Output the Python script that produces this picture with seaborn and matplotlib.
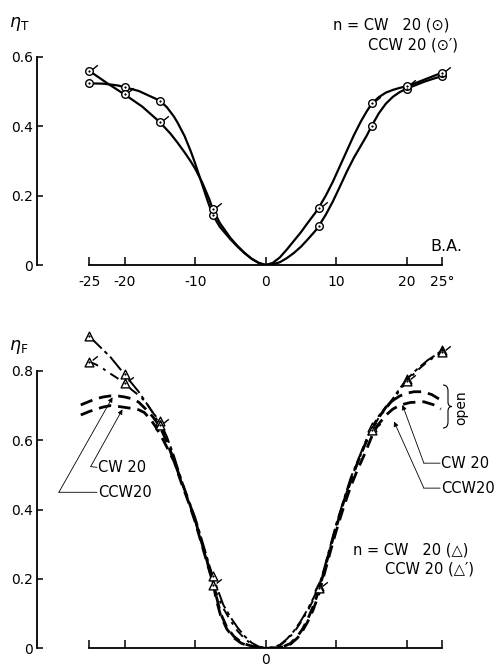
import matplotlib
matplotlib.use("Agg")
import matplotlib.pyplot as plt
import seaborn as sns
from matplotlib.path import Path
from matplotlib.patches import PathPatch

# ---------------- data ----------------
BA_TICKS = [-25, -20, -10, 0, 10, 20, 25]
TOP_XLABELS = ["-25", "-20", "-10", "0", "10", "20", "25°"]
BOT_XLABELS = ["", "", "", "0", "", "", ""]
TOP_YTICKS = [0, 0.2, 0.4, 0.6]
TOP_YLABELS = ["0", "0.2", "0.4", "0.6"]
BOT_YTICKS = [0, 0.2, 0.4, 0.6, 0.8]
BOT_YLABELS = ["0", "0.2", "0.4", "0.6", "0.8"]

# measured points (top: eta_T)
pt_x = [-25, -20, -15, -7.5, 7.5, 15, 20, 25]
top_cw_pts = [0.524, 0.513, 0.474, 0.144, 0.112, 0.401, 0.509, 0.545]
top_ccw_pts = [0.560, 0.492, 0.412, 0.161, 0.165, 0.468, 0.516, 0.555]

# traced curves (top)
top_cw_cx = [-25, -23, -21, -20, -18, -16.5, -15, -14, -13, -12.5, -11.5, -10.6, -10, -9, -8.2, -7.5,
             -6.5, -5, -4, -3, -2, -1, 0,
             1, 2, 3, 4, 5, 6, 7, 7.5, 8.5, 9.5, 10.5, 11.5, 12.5, 13.5, 14.3, 15, 16, 17, 18, 19, 20,
             21, 22.5, 24, 25]
top_cw_cy = [0.524, 0.523, 0.518, 0.513, 0.502, 0.488, 0.474, 0.455, 0.428, 0.411, 0.372, 0.327, 0.293, 0.232, 0.183, 0.144,
             0.110, 0.074, 0.053, 0.034, 0.018, 0.006, 0.0,
             0.002, 0.008, 0.020, 0.035, 0.053, 0.075, 0.098, 0.112, 0.145, 0.183, 0.226, 0.270, 0.310, 0.345, 0.373, 0.401, 0.437, 0.465, 0.485, 0.499, 0.509,
             0.517, 0.529, 0.539, 0.545]
top_ccw_cx = [-25, -22.5, -20, -17.5, -15, -13.5, -12.5, -11.5, -10.6, -10, -9, -8, -7.5, -6.5, -5, -4, -3, -2, -1, 0,
              1, 2, 3, 4, 5, 6, 7, 7.5, 8.5, 9.5, 10.5, 11.5, 12.5, 13.5, 14.3, 15, 16, 17, 18, 19, 20,
              21, 22.5, 24, 25]
top_ccw_cy = [0.560, 0.525, 0.492, 0.457, 0.412, 0.379, 0.353, 0.325, 0.298, 0.278, 0.238, 0.190, 0.161, 0.121, 0.078, 0.055, 0.035, 0.018, 0.006, 0.0,
              0.006, 0.022, 0.045, 0.07, 0.095, 0.123, 0.150, 0.165, 0.20, 0.24, 0.285, 0.33, 0.375, 0.415, 0.443, 0.465, 0.484, 0.497, 0.505, 0.511, 0.516,
              0.523, 0.535, 0.547, 0.555]

# measured points (bottom: eta_F)
bot_cw_pts = [0.900, 0.790, 0.655, 0.209, 0.180, 0.637, 0.776, 0.860]
bot_ccw_pts = [0.827, 0.764, 0.645, 0.183, 0.175, 0.630, 0.770, 0.855]

# traced curves (bottom)
bot_cw_cx = [-25, -24, -23, -22, -21, -20, -19, -18, -17, -16, -15, -14, -13, -12, -11, -10, -9, -8, -7.5,
             -7, -6, -5, -4, -3, -2, -1, 0,
             1, 2, 3, 4, 5, 6, 7, 7.5, 8, 9, 10, 11, 12, 13, 14, 15, 16, 17, 18, 19, 20,
             21, 22, 23, 24, 25]
bot_cw_cy = [0.900, 0.880, 0.860, 0.840, 0.815, 0.790, 0.765, 0.740, 0.710, 0.680, 0.655, 0.610, 0.555, 0.490, 0.430, 0.378, 0.310, 0.240, 0.209,
             0.180, 0.125, 0.090, 0.060, 0.035, 0.016, 0.005, 0.0,
             0.003, 0.010, 0.027, 0.050, 0.080, 0.115, 0.155, 0.180, 0.210, 0.285, 0.360, 0.425, 0.490, 0.540, 0.590, 0.637, 0.670, 0.695, 0.720, 0.750, 0.776,
             0.797, 0.815, 0.832, 0.845, 0.860]
bot_ccw_cx = [-25, -24, -23, -22, -21, -20, -19, -18, -17, -16, -15, -14, -13, -12, -11, -10, -9, -8, -7.5,
              -7, -6, -5, -4, -3, -2, -1, 0,
              1, 2, 3, 4, 5, 6, 7, 7.5, 8, 9, 10, 11, 12, 13, 14, 15, 16, 17, 18, 19, 20,
              21, 22, 23, 24, 25]
bot_ccw_cy = [0.827, 0.818, 0.806, 0.792, 0.779, 0.764, 0.746, 0.730, 0.710, 0.680, 0.645, 0.600, 0.545, 0.485, 0.425, 0.370, 0.300, 0.225, 0.183,
              0.160, 0.115, 0.080, 0.050, 0.028, 0.012, 0.003, 0.0,
              0.002, 0.008, 0.024, 0.046, 0.076, 0.110, 0.150, 0.175, 0.205, 0.280, 0.355, 0.420, 0.485, 0.535, 0.585, 0.630, 0.665, 0.690, 0.715, 0.745, 0.770,
              0.792, 0.811, 0.828, 0.842, 0.855]

# "open" curves (bottom, dashed)
open_a_cx = [-26.2, -25, -24, -23, -22, -21, -20, -19, -18, -17, -16, -15, -14, -13, -12, -11, -10, -9, -8, -7.5,
             -7, -6.4, -5.5, -4.5, -3.5, -2.6, -1.5, 0,
             1.5, 2.5, 3.5, 4.5, 5.2, 5.9, 6.7, 7.5, 8.5, 9.3, 10, 11, 12, 13, 14, 15, 16, 17, 18, 19,
             20, 21, 22.2, 23.5, 24.8]
open_a_cy = [0.702, 0.712, 0.720, 0.725, 0.728, 0.728, 0.725, 0.720, 0.710, 0.690, 0.668, 0.640, 0.595, 0.540, 0.485, 0.430, 0.370, 0.300, 0.230, 0.195,
             0.150, 0.101, 0.060, 0.034, 0.018, 0.010, 0.004, 0.0,
             0.001, 0.005, 0.014, 0.035, 0.055, 0.082, 0.120, 0.165, 0.240, 0.300, 0.350, 0.420, 0.480, 0.535, 0.585, 0.630, 0.665, 0.695, 0.715, 0.728,
             0.736, 0.740, 0.740, 0.732, 0.716]
open_b_cx = [-26.2, -25, -24, -23, -22, -21, -20, -19, -18, -17.2, -16.3, -15.6, -14.5, -13, -12, -11, -10, -9, -8, -7.5,
             -7, -6.4, -5.5, -4.5, -3.5, -2.6, -1.5, 0,
             1.5, 2.5, 3.5, 4.5, 5.2, 5.9, 6.7, 7.5, 8.5, 9.3, 10, 11, 12, 13, 14, 15, 15.8, 17, 18, 19.1,
             20.5, 22.4, 23.7, 24.8]
open_b_cy = [0.673, 0.683, 0.690, 0.696, 0.700, 0.698, 0.695, 0.692, 0.688, 0.680, 0.660, 0.639, 0.600, 0.540, 0.480, 0.425, 0.365, 0.295, 0.225, 0.190,
             0.140, 0.095, 0.055, 0.030, 0.015, 0.008, 0.003, 0.0,
             0.001, 0.004, 0.012, 0.030, 0.050, 0.075, 0.110, 0.155, 0.230, 0.290, 0.340, 0.405, 0.465, 0.515, 0.560, 0.610, 0.642, 0.672, 0.690, 0.702,
             0.709, 0.711, 0.703, 0.690]

# ---------------- layout ----------------
sns.set_style("ticks")
plt.rcParams["font.family"] = ["DejaVu Sans"]
for key in ("text.color", "axes.labelcolor", "xtick.color", "ytick.color", "axes.edgecolor"):
    plt.rcParams[key] = "black"
W, H = 499, 666
fig = plt.figure(figsize=(W / 100, H / 100), dpi=100)
PXD, PYD = 7.06, 346.7
XL = (-32.4, 29.75)


def rect(y0_px, ymax):
    return [37 / W, 1 - y0_px / H, (XL[1] - XL[0]) * PXD / W, ymax * PYD / H]


ax1 = fig.add_axes(rect(265, 0.66))
ax2 = fig.add_axes(rect(648.3, 0.95))

tick_path = Path([(0.37, 0.24), (0.97, 0.72)], [Path.MOVETO, Path.LINETO])


def style_axes(ax, ymax, ybound, yt, yl, xl, xpad):
    ax.set_xlim(*XL)
    ax.set_ylim(0, ymax)
    for s in ("top", "right"):
        ax.spines[s].set_visible(False)
    ax.spines["bottom"].set_bounds(-25, 25)
    ax.spines["left"].set_bounds(0, ybound)
    for s in ("bottom", "left"):
        ax.spines[s].set_linewidth(1.3)
        ax.spines[s].set_color("black")
    ax.set_xticks(BA_TICKS)
    ax.set_xticklabels(xl)
    ax.set_yticks(yt)
    ax.set_yticklabels(yl)
    ax.tick_params(axis="x", direction="in", length=6, width=1.1, pad=xpad, labelsize=10,
                   colors="black")
    ax.tick_params(axis="y", direction="in", length=4, width=1.1, pad=3, labelsize=10,
                   colors="black")
    ax.set_xlabel("")
    ax.set_ylabel("")
    ax.patch.set_alpha(0)


def points(ax, x, y, marker, s, ticked):
    sns.scatterplot(x=x, y=y, ax=ax, marker=marker, s=s, color="white",
                    edgecolor="k", linewidth=1.0, zorder=4, legend=False)
    sns.scatterplot(x=x, y=y, ax=ax, marker="o", s=1.5, color="k",
                    edgecolor="k", linewidth=0.3, zorder=5, legend=False)
    if ticked:
        sns.scatterplot(x=x, y=y, ax=ax, marker=tick_path, s=144, color="k",
                        edgecolor="k", linewidth=1.0, zorder=5, legend=False)


# ---- top panel ----
sns.lineplot(x=top_cw_cx, y=top_cw_cy, ax=ax1, color="k", lw=1.6, estimator=None)
sns.lineplot(x=top_ccw_cx, y=top_ccw_cy, ax=ax1, color="k", lw=1.6, estimator=None)
points(ax1, pt_x, top_cw_pts, "o", 30, False)
points(ax1, pt_x, top_ccw_pts, "o", 30, True)
style_axes(ax1, 0.66, 0.6, TOP_YTICKS, TOP_YLABELS, TOP_XLABELS, 7)
ax1.text(27.9, 0.052, "B.A.", ha="right", va="center", fontsize=11.5)

fig.text(9 / W, 1 - 24 / H, r"$\eta_\mathrm{T}$", fontsize=12.5, va="center", ha="left")
fig.text(333 / W, 1 - 25 / H, "n = CW   20 (⊙)", fontsize=10.5, va="center", ha="left")
fig.text(368 / W, 1 - 45 / H, "CCW 20 (⊙′)", fontsize=10.5, va="center", ha="left")

# ---- bottom panel ----
sns.lineplot(x=open_a_cx, y=open_a_cy, ax=ax2, color="k", lw=2.0, estimator=None,
             linestyle=(0, (4.5, 2.5)))
sns.lineplot(x=open_b_cx, y=open_b_cy, ax=ax2, color="k", lw=2.0, estimator=None,
             linestyle=(0, (4.5, 2.5)))
sns.lineplot(x=bot_cw_cx, y=bot_cw_cy, ax=ax2, color="k", lw=1.4, estimator=None,
             linestyle=(0, (9, 2, 2, 2)))
sns.lineplot(x=bot_ccw_cx, y=bot_ccw_cy, ax=ax2, color="k", lw=1.4, estimator=None,
             linestyle=(0, (5, 3, 1.5, 3)))
points(ax2, pt_x, bot_cw_pts, "^", 40, False)
points(ax2, pt_x, bot_ccw_pts, "^", 40, True)
style_axes(ax2, 0.95, 0.8, BOT_YTICKS, BOT_YLABELS, BOT_XLABELS, 3.5)

fig.text(9 / W, 1 - 347 / H, r"$\eta_\mathrm{F}$", fontsize=12.5, va="center", ha="left")
fig.text(353 / W, 1 - 550 / H, "n = CW   20 (△)", fontsize=10.5, va="center", ha="left")
fig.text(385 / W, 1 - 569 / H, "CCW 20 (△′)", fontsize=10.5, va="center", ha="left")

# leader annotations (tip, corner, text-start)
leaders = [
    ("CW 20", (-20.3, 0.689), (-24.8, 0.524), (-23.8, 0.522)),
    ("CCW20", (-21.7, 0.724), (-29.3, 0.450), (-23.8, 0.450)),
    ("CW 20", (19.36, 0.702), (22.4, 0.534), (24.8, 0.534)),
    ("CCW20", (18.17, 0.654), (22.4, 0.462), (24.8, 0.462)),
]
for label, tip, corner, tpos in leaders:
    ax2.annotate("", xy=tip, xytext=corner,
                 arrowprops=dict(arrowstyle="-|>", lw=0.6, color="k",
                                 mutation_scale=7, shrinkA=0, shrinkB=0))
    ax2.annotate("", xy=(tpos[0] - 0.1, tpos[1]), xytext=corner,
                 arrowprops=dict(arrowstyle="-", lw=0.6, color="k",
                                 shrinkA=0, shrinkB=0))
    ax2.text(tpos[0], tpos[1], label, ha="left", va="center", fontsize=10.5,
             clip_on=False)


# "open" brace
def fx(px):
    return px / W


def fy(py):
    return 1 - py / H


verts = [(fx(443), fy(385)), (fx(448), fy(385)), (fx(448), fy(391)),
         (fx(448), fy(402)),
         (fx(448), fy(406.5)), (fx(452), fy(406.5)),
         (fx(448), fy(406.5)), (fx(448), fy(411)),
         (fx(448), fy(422)),
         (fx(448), fy(428)), (fx(443), fy(428))]
codes = [Path.MOVETO, Path.CURVE3, Path.CURVE3, Path.LINETO,
         Path.CURVE3, Path.CURVE3, Path.CURVE3, Path.CURVE3, Path.LINETO,
         Path.CURVE3, Path.CURVE3]
fig.patches.append(PathPatch(Path(verts, codes), transform=fig.transFigure,
                             fill=False, lw=0.8, color="k"))
fig.text(fx(461), fy(408), "open", rotation=90, ha="center", va="center", fontsize=10)

fig.savefig("out.png", dpi=100)
